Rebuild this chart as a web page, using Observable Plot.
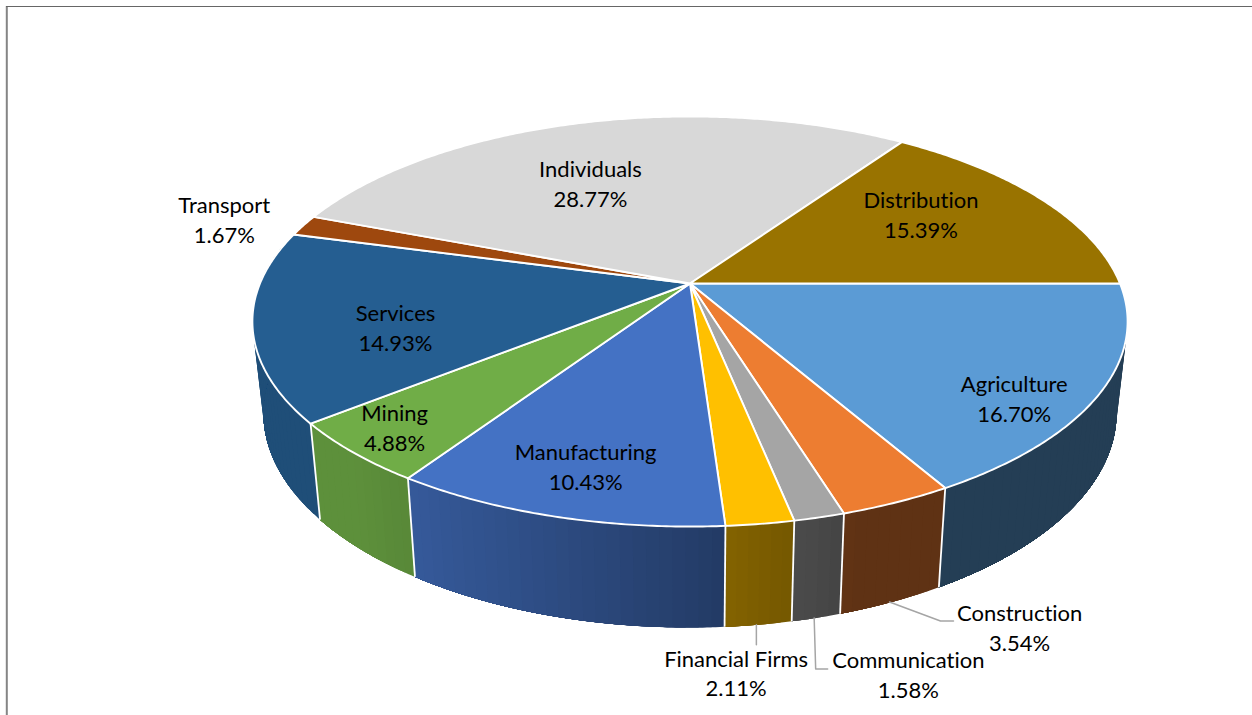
<!DOCTYPE html>
<html>
<head>
<meta charset="utf-8">
<script src="https://cdn.jsdelivr.net/npm/d3@7"></script>
<script src="https://cdn.jsdelivr.net/npm/@observablehq/plot@0.6"></script>
<style>
html,body{margin:0;padding:0;background:#fff;overflow:hidden}
svg{display:block}
svg text{font-variant-ligatures:none;font-feature-settings:"liga" 0}
</style>
</head>
<body>
<div id="chart"></div>
<script>
// ---- data, clockwise from 3 o'clock ----
const categories = ["Agriculture","Construction","Communication","Financial Firms","Manufacturing","Mining","Services","Transport","Individuals","Distribution"];
const shares = [16.70,3.54,1.58,2.11,10.43,4.88,14.93,1.67,28.77,15.39];
const palette = ["#5B9BD5","#ED7D31","#A5A5A5","#FFC000","#4472C4","#70AD47","#255E91","#9E480E","#D8D8D8","#997300"];

// ---- layout: perspective of the pie ----
const view = {w:1252,h:715,cx:689.5,cy:283,rx:430,ry:198,k:0.1854,sx:0.975,sy:1.048,drop:89.3};
// label offset from the rim point at each slice's mid-angle
const labelNudge = [[-86,6.6],[123,126.5],[89,158],[-24,150],[30.5,-49],[41,-24],[143,2.7],[-79,-5],[8.4,61.7],[-119.5,16.7]];
// leader elbows, relative to the wall's bottom point at mid-angle
const leaderShift = -2;
const leaderBends = {"Construction":[[51,19],[64,19]],"Communication":[[1.5,51],[13.5,51]],"Financial Firms":[[0,20]]};

const rad = d => d*Math.PI/180;
function topAt(deg){
  const c=Math.cos(rad(deg)), s=Math.sin(rad(deg)), w=1-view.k*s;
  return [view.cx+view.rx*c/w, view.cy+view.ry*s/w];
}
function bottomAt(deg){
  const [x,y]=topAt(deg);
  return [view.cx+view.sx*(x-view.cx), view.cy+view.drop+view.sy*(y-view.cy)];
}
// wall brightness by horizontal position
const shade = d3.scaleLinear().domain([355,415,860]).range([0.83,0.78,0.40]).clamp(true);
function darker(hex,f){const c=d3.rgb(hex);return d3.rgb(c.r*f,c.g*f,c.b*f).formatHex();}

let acc=0;
const slices = categories.map((name,i)=>{
  const a0=acc*3.6; acc+=shares[i]; const a1=acc*3.6;
  return {name,i,value:shares[i],a0,a1,mid:(a0+a1)/2,color:palette[i]};
});
function arc(a0,a1,step=0.5){
  const n=Math.max(2,Math.ceil((a1-a0)/step));
  return d3.range(n+1).map(j=>a0+(a1-a0)*j/n);
}
// top faces
const topPts = slices.flatMap(s=>[
  {id:s.name,name:s.name,p:[view.cx,view.cy]},
  ...arc(s.a0,s.a1).map(a=>({id:s.name,name:s.name,p:topAt(a)}))
]);
// front walls: only slices whose wall can be seen.
// Each strip reaches to the slice's far end, so later strips paint over earlier ones and no seams show.
const frontSlices = slices.filter(s=>s.a0<180);
const wallPts = frontSlices.flatMap(s=>{
  const as=arc(s.a0,s.a1,1.5), out=[];
  for(let j=0;j<as.length-1;j++){
    const col=darker(s.color,shade((topAt(as[j])[0]+topAt(as[j+1])[0])/2));
    const span=arc(as[j],s.a1,0.5);
    const id=s.name+j;
    span.forEach(a=>out.push({id,col,p:topAt(a)}));
    span.slice().reverse().forEach(a=>out.push({id,col,p:bottomAt(a)}));
  }
  return out;
});
const wallEdges = frontSlices.slice(1).map(s=>({t:topAt(s.a0),b:bottomAt(s.a0)}));
const leaders = slices.filter(s=>leaderBends[s.name]).flatMap(s=>{
  const b0=bottomAt(s.mid), b=[b0[0]+leaderShift,b0[1]];
  return [b,...leaderBends[s.name].map(o=>[b[0]+o[0],b[1]+o[1]])].map(p=>({id:s.name,p}));
});
const labels = slices.map(s=>{
  const r=topAt(s.mid), n=labelNudge[s.i];
  return {text:`${s.name}\n${s.value.toFixed(2)}%`,x:r[0]+n[0],y:r[1]+n[1]};
});

const chart = Plot.plot({
  width:view.w,height:view.h,margin:0,
  x:{domain:[0,view.w],range:[0,view.w],axis:null},
  y:{domain:[0,view.h],range:[0,view.h],axis:null},
  color:{domain:categories,range:palette},
  style:{background:"#fff"},
  marks:[
    Plot.ruleX([6.3],{y1:6,y2:view.h,stroke:"#858585",strokeWidth:2}),
    Plot.ruleY([6],{x1:6,x2:view.w,stroke:"#666",strokeWidth:1}),
    Plot.line(wallPts,{x:d=>d.p[0],y:d=>d.p[1],z:"id",curve:"linear-closed",
      fill:{value:"col",scale:null},stroke:"none"}),
    Plot.link(wallEdges,{x1:d=>d.t[0],y1:d=>d.t[1],x2:d=>d.b[0],y2:d=>d.b[1],stroke:"#fff",strokeWidth:1.8}),
    Plot.line(topPts,{x:d=>d.p[0],y:d=>d.p[1],z:"id",curve:"linear-closed",fill:"name",stroke:"#fff",strokeWidth:1.9}),
    Plot.line(leaders,{x:d=>d.p[0],y:d=>d.p[1],z:"id",stroke:"#A5A5A5",strokeWidth:1.5}),
    Plot.text(labels,{x:"x",y:"y",dy:-2,text:"text",fontSize:22,lineHeight:1.34,fill:"#000",
      fontFamily:"Lato, 'Open Sans', sans-serif",textAnchor:"middle"})
  ]
});
document.getElementById("chart").append(chart);
</script>
</body>
</html>
